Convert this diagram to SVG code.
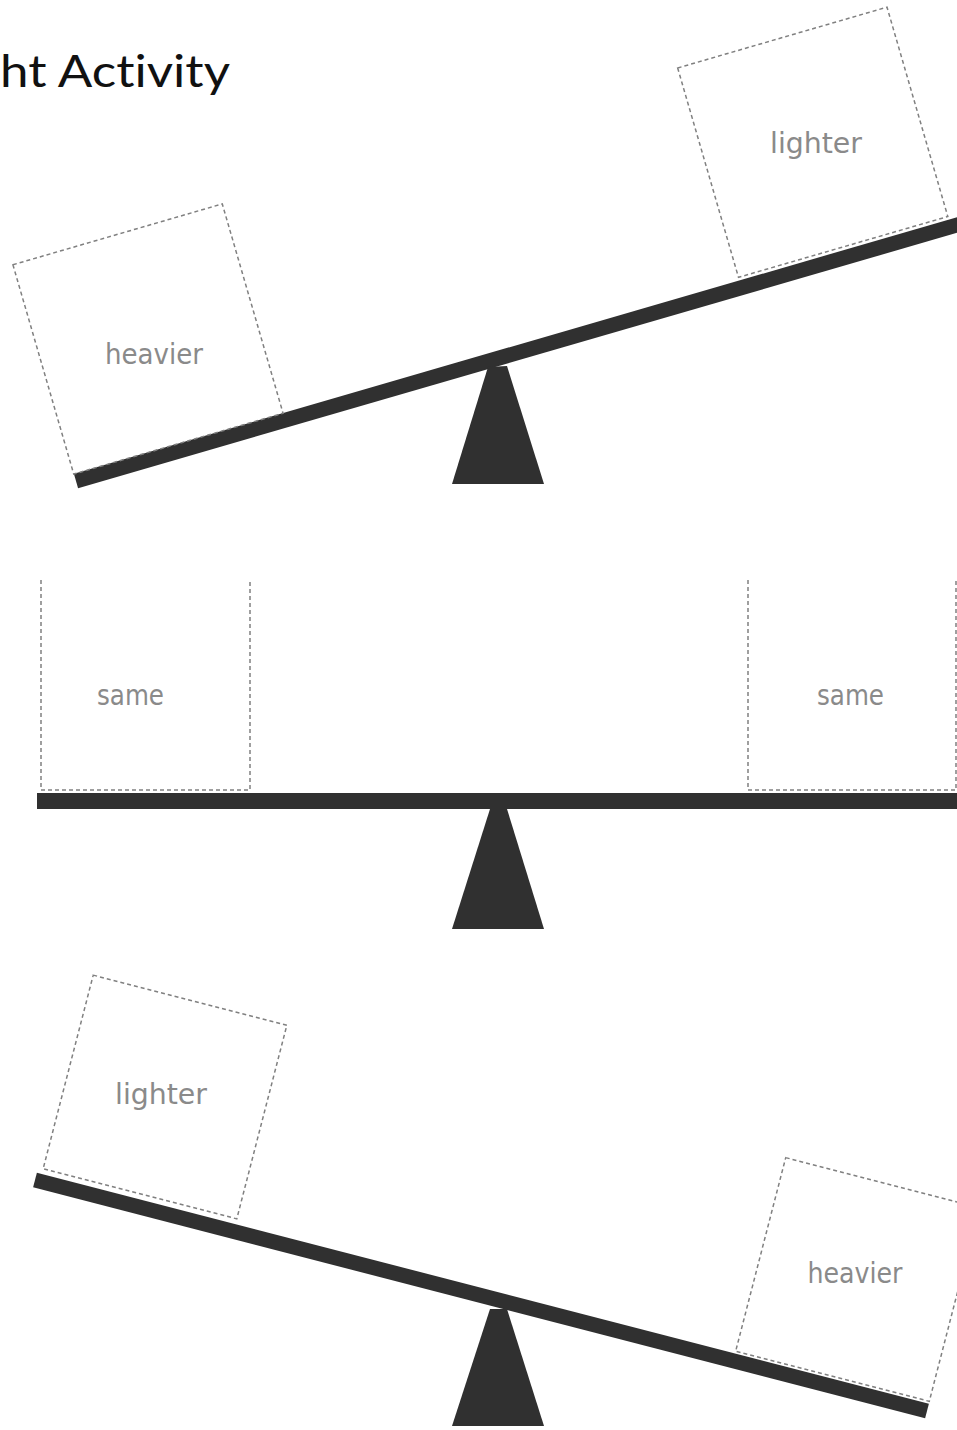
<svg xmlns="http://www.w3.org/2000/svg" width="957" height="1430" viewBox="0 0 957 1430">
<style>
.beam{stroke:#303030;stroke-width:15;stroke-linecap:butt;fill:none}
.fulcrum{fill:#303030}
.box{fill:none;stroke:#808080;stroke-width:1.5;stroke-dasharray:4 3}
.lbl{font-family:"DejaVu Sans","Liberation Sans",sans-serif;font-size:29px;fill:#8a8a8a;text-anchor:middle}
.title{font-family:Lato,"Open Sans",sans-serif;font-weight:400;font-size:44px;fill:#111;font-variant-ligatures:none;font-feature-settings:"liga" 0}
</style>
<rect width="957" height="1430" fill="#fff"/>
<text class="title" x="0" y="87" textLength="230" lengthAdjust="spacingAndGlyphs">ht Activity</text>

<g id="seesaw-top">
  <line class="beam" x1="76" y1="481" x2="975" y2="219.8"/>
  <polygon class="fulcrum" points="488,367 507,366 544,484 452,484"/>
</g>
<g id="box-top-heavier">
  <rect class="box" x="-109" y="-109" width="218" height="218" transform="translate(148,339) rotate(-16.2)"/>
  <text class="lbl" x="154" y="364" textLength="98" lengthAdjust="spacingAndGlyphs">heavier</text>
</g>
<g id="box-top-lighter">
  <rect class="box" x="-109" y="-109" width="218" height="218" transform="translate(812.75,142.25) rotate(-16.2)"/>
  <text class="lbl" x="816" y="153" textLength="92" lengthAdjust="spacingAndGlyphs">lighter</text>
</g>

<g id="seesaw-middle">
  <rect x="37" y="793" width="930" height="16" fill="#303030"/>
  <polygon class="fulcrum" points="490,809 507,809 544,929 452,929"/>
</g>
<g id="box-mid-left">
  <path class="box" d="M41,580 V790 H250 V580"/>
  <text class="lbl" x="130.5" y="705" textLength="67" lengthAdjust="spacingAndGlyphs">same</text>
</g>
<g id="box-mid-right">
  <path class="box" d="M748,580 V790 H956 V580"/>
  <text class="lbl" x="850.5" y="705" textLength="67" lengthAdjust="spacingAndGlyphs">same</text>
</g>

<g id="seesaw-bottom">
  <line class="beam" x1="35" y1="1180" x2="927" y2="1411"/>
  <polygon class="fulcrum" points="490,1309 507,1309 544,1426 452,1426"/>
</g>
<g id="box-bottom-lighter">
  <rect class="box" x="-100" y="-100" width="200" height="200" transform="translate(165,1097) rotate(14.5)"/>
  <text class="lbl" x="161" y="1104" textLength="92" lengthAdjust="spacingAndGlyphs">lighter</text>
</g>
<g id="box-bottom-heavier">
  <rect class="box" x="-100" y="-100" width="200" height="200" transform="translate(857.5,1279.5) rotate(14.5)"/>
  <text class="lbl" x="855" y="1283" textLength="95" lengthAdjust="spacingAndGlyphs">heavier</text>
</g>
</svg>
